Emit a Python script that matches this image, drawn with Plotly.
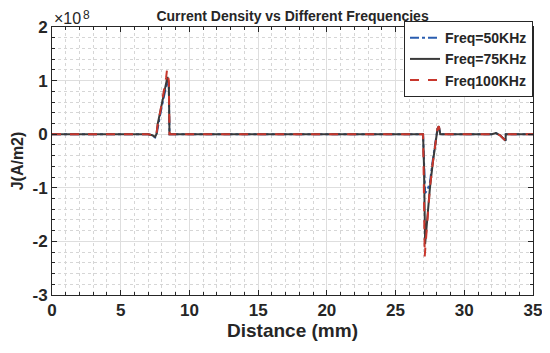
import plotly.graph_objects as go

# Current density values in units of 1e8 A/m2, distance in mm
x_50 = [0, 7.0, 7.3, 7.5, 7.6, 7.7, 7.9, 8.1, 8.3, 8.4, 8.5, 8.55, 27.0, 27.07, 27.15, 27.3, 27.5, 27.7, 27.9, 28.05, 28.15, 28.25, 32.0, 32.3, 32.6, 32.9, 33.0, 33.02, 35]
y_50 = [0, 0, -0.02, -0.06, -0.02, 0.15, 0.4, 0.65, 0.92, 1.0, 0.9, 0, 0, -0.4, -1.1, -1.05, -0.9, -0.5, -0.12, 0.1, 0.14, 0, 0, 0.02, -0.02, -0.1, -0.12, 0, 0]

x_75 = [0, 7.0, 7.3, 7.5, 7.6, 7.7, 7.9, 8.1, 8.3, 8.4, 8.5, 8.55, 27.0, 27.07, 27.15, 27.2, 27.35, 27.5, 27.7, 27.9, 28.05, 28.15, 28.25, 32.0, 32.3, 32.6, 32.9, 33.0, 33.02, 35]
y_75 = [0, 0, -0.02, -0.05, 0.0, 0.2, 0.45, 0.7, 1.0, 1.07, 0.95, 0, 0, -0.6, -2.05, -1.9, -1.4, -1.0, -0.55, -0.15, 0.1, 0.15, 0, 0, 0.02, -0.02, -0.1, -0.12, 0, 0]

x_100 = [0, 7.0, 7.3, 7.5, 7.6, 7.7, 7.9, 8.1, 8.3, 8.37, 8.5, 8.55, 27.0, 27.05, 27.12, 27.2, 27.35, 27.5, 27.7, 27.9, 28.05, 28.15, 28.25, 32.0, 32.3, 32.6, 32.9, 33.0, 33.02, 35]
y_100 = [0, 0, -0.02, -0.05, 0.0, 0.2, 0.45, 0.72, 1.05, 1.2, 1.0, 0, 0, -0.8, -2.28, -2.0, -1.45, -1.0, -0.55, -0.15, 0.1, 0.15, 0, 0, 0.02, -0.02, -0.1, -0.12, 0, 0]

series_names = ["Freq=50KHz", "Freq=75KHz", "Freq100KHz"]
x_ticks = [0, 5, 10, 15, 20, 25, 30, 35]
y_ticks = [-3, -2, -1, 0, 1, 2]

FONT = "Liberation Sans, Arial, sans-serif"
INK = "#262626"

fig = go.Figure()
fig.add_trace(go.Scatter(x=x_50, y=y_50, mode="lines", name="<b>" + series_names[0] + "</b>",
                         line=dict(color="#2a5db0", width=2, dash="dashdot")))
fig.add_trace(go.Scatter(x=x_75, y=y_75, mode="lines", name="<b>" + series_names[1] + "</b>",
                         line=dict(color="#3a3a3a", width=2, dash="solid")))
fig.add_trace(go.Scatter(x=x_100, y=y_100, mode="lines", name="<b>" + series_names[2] + "</b>",
                         line=dict(color="#c8372d", width=2, dash="dash")))

axis_common = dict(
    showline=True, linecolor=INK, linewidth=1, mirror="ticks",
    ticks="inside", ticklen=5, tickcolor=INK,
    showgrid=True, gridcolor="#dedede", gridwidth=1,
    zeroline=False, automargin=False,
    tickfont=dict(family=FONT, size=17, color=INK),
)

fig.update_xaxes(
    range=[0, 35], tickvals=x_ticks, ticktext=["<b>%d</b>" % v for v in x_ticks],
    minor=dict(dtick=1, ticks="inside", ticklen=3, tickcolor=INK,
               showgrid=True, gridcolor="#d6d6d6", griddash="dot"),
    title=dict(text="<b>Distance (mm)</b>", font=dict(family=FONT, size=19, color=INK), standoff=4),
    **axis_common,
)
fig.update_yaxes(
    range=[-3, 2], tickvals=y_ticks, ticktext=["<b>%d</b>" % v for v in y_ticks],
    minor=dict(dtick=0.2, ticks="inside", ticklen=3, tickcolor=INK,
               showgrid=True, gridcolor="#d6d6d6", griddash="dot"),
    title=dict(text="<b>J(A/m2)</b>", font=dict(family=FONT, size=16, color=INK), standoff=4),
    **axis_common,
)

# page body adds an 8px offset, so the figure is 8px smaller and margins shifted
fig.update_layout(
    width=542, height=345,
    margin=dict(l=44, r=17, t=19, b=58, autoexpand=False),
    paper_bgcolor="white", plot_bgcolor="white",
    title=dict(text="<b>Current Density vs Different Frequencies</b>", x=0.525, xanchor="center",
               y=0.977, yanchor="middle", automargin=False, pad=dict(t=0, b=0),
               font=dict(family=FONT, size=14, color=INK)),
    legend=dict(x=1, y=1.022, xanchor="right", yanchor="top", bgcolor="white",
                bordercolor=INK, borderwidth=1,
                font=dict(family=FONT, size=14, color=INK),
                tracegroupgap=0, itemwidth=30),
    showlegend=True,
    annotations=[
        dict(text="×10", x=0, xref="paper", y=1, yref="paper",
             xanchor="left", yanchor="bottom", showarrow=False, xshift=0, yshift=-2,
             font=dict(family=FONT, size=16, color=INK)),
        dict(text="8", x=0, xref="paper", y=1, yref="paper",
             xanchor="left", yanchor="bottom", showarrow=False, xshift=29, yshift=3,
             font=dict(family=FONT, size=12, color=INK)),
    ],
)

fig.write_html("out.html")
